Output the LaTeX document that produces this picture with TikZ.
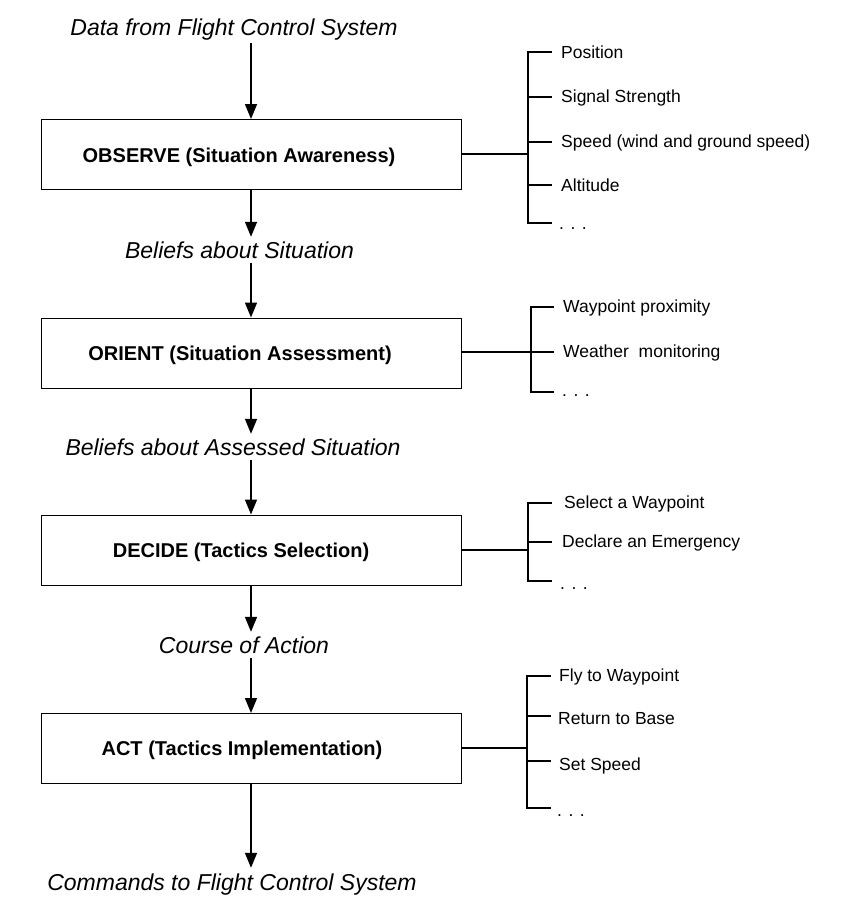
\documentclass[tikz,border=0pt]{standalone}
\usepackage{fontspec}
\setmainfont{Liberation Sans}
\usetikzlibrary{arrows.meta}
\tikzset{
  box/.style={draw, line width=1pt, minimum width=420pt, minimum height=70pt, inner sep=0pt},
  boxtext/.style={font=\fontsize{20}{24}\selectfont\bfseries, inner sep=0pt},
  flow/.style={font=\fontsize{23}{27}\selectfont\itshape, inner sep=0pt, minimum height=26pt},
  item/.style={font=\fontsize{17.5}{20}\selectfont, inner sep=0pt, anchor=west},
  dots/.style={font=\fontsize{17.5}{20}\selectfont, inner sep=0pt, anchor=base west},
  arr/.style={line width=1.5pt, -{Triangle[length=15pt,width=12pt]}},
  brk/.style={line width=1.8pt},
  link/.style={line width=1.5pt}
}
\begin{document}
\begin{tikzpicture}[x=1pt,y=-1pt]
\useasboundingbox (0,0) rectangle (844,905);

% boxes
\node[box] (obs) at (251,154.5) {};
\node[boxtext] (obsT) at (239,157.5) {OBSERVE (Situation Awareness)};
\node[box] (ori) at (251,353) {};
\node[boxtext] (oriT) at (240,355.5) {ORIENT (Situation Assessment)};
\node[box] (dec) at (251,550) {};
\node[boxtext] (decT) at (241,552.5) {DECIDE (Tactics Selection)};
\node[box] (act) at (251,748.5) {};
\node[boxtext] (actT) at (242,750.5) {ACT (Tactics Implementation)};

% flow labels
\node[flow] (l0) at (234,30) {Data from Flight Control System};
\node[flow] (l1) at (239.5,250) {Beliefs about Situation};
\node[flow] (l2) at (233,447) {Beliefs about Assessed Situation};
\node[flow] (l3) at (244,645) {Course of Action};
\node[flow] (l4) at (232,885) {Commands to Flight Control System};

% arrows
\draw[arr] (obs.north |- l0.south) -- (obs.north);
\draw[arr] (obs.south) -- (obs.south |- l1.north);
\draw[arr] (obs.south |- l1.south) -- (ori.north);
\draw[arr] (ori.south) -- (ori.south |- l2.north);
\draw[arr] (ori.south |- l2.south) -- (dec.north);
\draw[arr] (dec.south) -- (dec.south |- l3.north);
\draw[arr] (dec.south |- l3.south) -- (act.north);
\draw[arr] (act.south) -- ([yshift=4pt]act.south |- l4.north);

% OBSERVE bracket
\coordinate (ob) at (528,154);
\draw[link] (obs.east |- ob) -- (ob);
\draw[brk] (552,52) -- (528,52) -- (528,223) -- (552,223);
\foreach \yy in {97,142,185} \draw[brk] (528,\yy) -- (552,\yy);
\node[item] (o1) at (561,52) {Position};
\node[item] (o2) at (561,97.5) {Signal Strength};
\node[item] (o3) at (561,142.5) {Speed (wind and ground speed)};
\node[item] (o4) at (561,185.5) {Altitude};
\node[dots] (o5) at (559,229) {. . .};

% ORIENT bracket
\coordinate (rb) at (531,352);
\draw[link] (ori.east |- rb) -- (rb);
\draw[brk] (554,307) -- (531,307) -- (531,392) -- (554,392);
\draw[brk] (531,352) -- (554,352);
\node[item] (r1) at (563,307.5) {Waypoint proximity};
\node[item] (r2) at (563,352.5) {Weather\ \ monitoring};
\node[dots] (r3) at (562,396) {. . .};

% DECIDE bracket
\coordinate (db) at (528,550);
\draw[link] (dec.east |- db) -- (db);
\draw[brk] (552,503) -- (528,503) -- (528,581) -- (552,581);
\draw[brk] (528,542) -- (552,542);
\node[item] (d1) at (564,504) {Select a Waypoint};
\node[item] (d2) at (562,542.5) {Declare an Emergency};
\node[dots] (d3) at (560,589) {. . .};

% ACT bracket
\coordinate (ab) at (527,748);
\draw[link] (act.east |- ab) -- (ab);
\draw[brk] (551,676) -- (527,676) -- (527,808) -- (551,808);
\foreach \yy in {716,761} \draw[brk] (527,\yy) -- (551,\yy);
\node[item] (a1) at (559,677) {Fly to Waypoint};
\node[item] (a2) at (558,719) {Return to Base};
\node[item] (a3) at (559,766) {Set Speed};
\node[dots] (a4) at (557,816) {. . .};
\end{tikzpicture}
\end{document}
